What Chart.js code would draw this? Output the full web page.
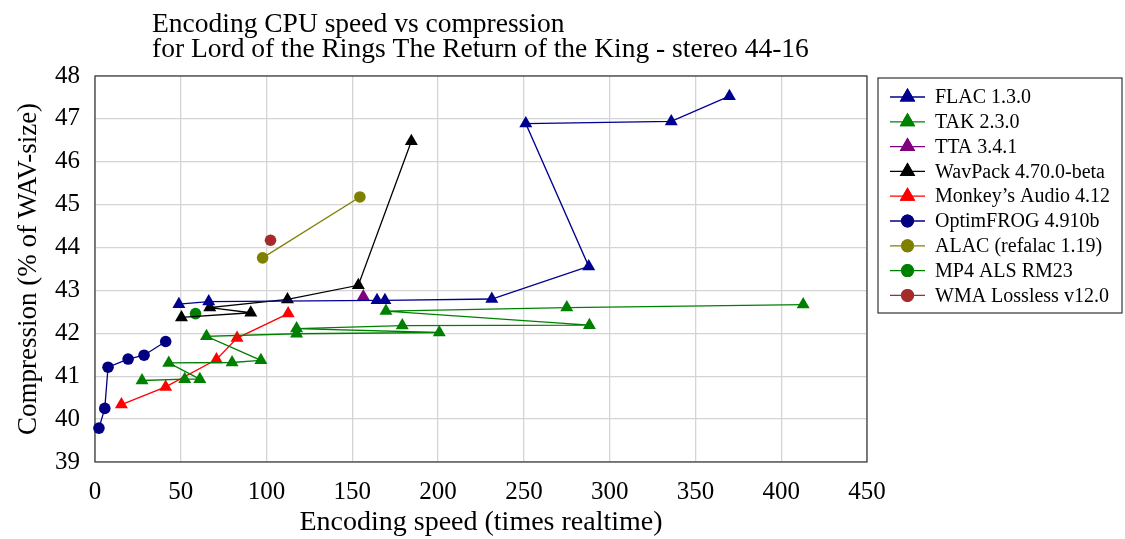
<!DOCTYPE html>
<html>
<head>
<meta charset="utf-8">
<script src="https://cdn.jsdelivr.net/npm/chart.js@4.4.0/dist/chart.umd.min.js"></script>
<style>
  body { margin: 0; background: #fff; }
  #wrap { width: 1125px; height: 539px; }
</style>
</head>
<body>
<div id="wrap"><canvas id="codecChart" width="1125" height="539"></canvas></div>
<script>
// values (speed = times realtime, size = % of WAV)
const xTicks = [0, 50, 100, 150, 200, 250, 300, 350, 400, 450];
const yTicks = [39, 40, 41, 42, 43, 44, 45, 46, 47, 48];

const flacSpeed = [48.9, 66.3, 164.4, 169.0, 231.3, 287.8, 251.1, 335.9, 369.8];
const flacSize = [42.68, 42.74, 42.77, 42.77, 42.80, 43.56, 46.89, 46.94, 47.53];

const takSpeed = [412.8, 275.0, 169.6, 288.2, 179.1, 117.5, 200.7, 117.5, 65.0, 96.7, 79.9, 43.0, 61.1, 52.3, 27.4];
const takSize = [42.67, 42.60, 42.52, 42.19, 42.18, 42.11, 42.02, 41.99, 41.93, 41.37, 41.32, 41.31, 40.93, 40.93, 40.90];

const ttaSpeed = [156.4];
const ttaSize = [42.86];

const wavpackSpeed = [50.4, 90.8, 66.9, 112.2, 153.5, 184.4];
const wavpackSize = [42.37, 42.48, 42.60, 42.79, 43.12, 46.48];

const monkeySpeed = [15.4, 41.2, 70.8, 82.8, 112.6];
const monkeySize = [40.34, 40.75, 41.39, 41.89, 42.46];

const ofrSpeed = [2.3, 5.7, 7.6, 19.3, 28.6, 41.2];
const ofrSize = [39.79, 40.25, 41.21, 41.40, 41.49, 41.81];

const alacSpeed = [97.7, 154.4];
const alacSize = [43.76, 45.18];

const alsSpeed = [58.6];
const alsSize = [42.46];

const wmaSpeed = [102.3];
const wmaSize = [44.17];

const FONT = "'Liberation Serif', 'Times New Roman', serif";

function pts(xs, ys) {
  return xs.map((x, i) => ({ x: x, y: ys[i] }));
}

function series(label, xs, ys, color, style) {
  return {
    label: label,
    data: pts(xs, ys),
    showLine: true,
    borderColor: color,
    backgroundColor: color,
    borderWidth: 1.3,
    pointStyle: style,
    pointRadius: style === "triangle" ? 7.5 : 5.8,
    pointBorderWidth: 0,
    pointHoverRadius: 7,
    clip: false,
  };
}

const datasets = [
  series("FLAC 1.3.0", flacSpeed, flacSize, "#000090", "triangle"),
  series("TAK 2.3.0", takSpeed, takSize, "#008000", "triangle"),
  series("TTA 3.4.1", ttaSpeed, ttaSize, "#800080", "triangle"),
  series("WavPack 4.70.0-beta", wavpackSpeed, wavpackSize, "#000000", "triangle"),
  series("Monkey\u2019s Audio 4.12", monkeySpeed, monkeySize, "#ff0000", "triangle"),
  series("OptimFROG 4.910b", ofrSpeed, ofrSize, "#000080", "circle"),
  series("ALAC (refalac 1.19)", alacSpeed, alacSize, "#808000", "circle"),
  series("MP4 ALS RM23", alsSpeed, alsSize, "#008000", "circle"),
  series("WMA Lossless v12.0", wmaSpeed, wmaSize, "#a52a2a", "circle"),
];

// two-line title, left aligned like the pgfplots original
const titlePlugin = {
  id: "titleLines",
  afterDraw(chart) {
    const ctx = chart.ctx;
    ctx.save();
    ctx.fillStyle = "#000";
    ctx.font = "27.5px " + FONT;
    ctx.textAlign = "left";
    ctx.textBaseline = "alphabetic";
    ctx.fillText("Encoding CPU speed vs compression", 152, 32);
    ctx.fillText("for Lord of the Rings The Return of the King - stereo 44-16", 152, 57);
    ctx.restore();
  },
};

// box around the plot area
const framePlugin = {
  id: "frame",
  beforeDatasetsDraw(chart) {
    const a = chart.chartArea;
    const ctx = chart.ctx;
    ctx.save();
    ctx.strokeStyle = "#333";
    ctx.lineWidth = 1.2;
    ctx.strokeRect(a.left, a.top, a.right - a.left, a.bottom - a.top);
    ctx.restore();
  },
};

// legend with line + marker samples inside a framed box
const legendPlugin = {
  id: "boxLegend",
  afterDraw(chart) {
    const ctx = chart.ctx;
    ctx.save();
    ctx.strokeStyle = "#333";
    ctx.lineWidth = 1.2;
    ctx.strokeRect(878, 78, 244, 235);
    ctx.font = "20px " + FONT;
    ctx.textAlign = "left";
    ctx.textBaseline = "middle";
    chart.data.datasets.forEach((ds, i) => {
      const y = 97 + i * 24.8;
      ctx.strokeStyle = ds.borderColor;
      ctx.lineWidth = 1.3;
      ctx.beginPath();
      ctx.moveTo(890, y);
      ctx.lineTo(925, y);
      ctx.stroke();
      ctx.fillStyle = ds.backgroundColor;
      Chart.helpers.drawPoint(ctx, {
        pointStyle: ds.pointStyle,
        radius: ds.pointStyle === "triangle" ? 9 : 6.5,
        rotation: 0,
        borderWidth: 0,
      }, 907.5, y);
      ctx.fill();
      ctx.fillStyle = "#000";
      ctx.fillText(ds.label, 935, y + 1);
    });
    ctx.restore();
  },
};

const ctx = document.getElementById("codecChart").getContext("2d");
new Chart(ctx, {
  type: "scatter",
  data: { datasets: datasets },
  options: {
    responsive: false,
    animation: false,
    devicePixelRatio: 1,
    layout: { padding: { top: 76, right: 258, left: 0, bottom: 0 } },
    plugins: {
      legend: { display: false },
      title: { display: false },
      tooltip: { enabled: false },
    },
    scales: {
      x: {
        type: "linear",
        min: 0,
        max: 450,
        afterBuildTicks(scale) {
          scale.ticks = xTicks.map((v) => ({ value: v }));
        },
        afterFit(scale) {
          scale.height = 77;
        },
        grid: { color: "#d4d4d4", lineWidth: 1.3, drawTicks: false },
        border: { display: false },
        ticks: {
          color: "#000",
          padding: 15,
          maxRotation: 0,
          font: { family: FONT, size: 25 },
        },
        title: {
          display: true,
          text: "Encoding speed (times realtime)",
          color: "#000",
          font: { family: FONT, size: 28, lineHeight: 1 },
          padding: { top: 0, bottom: 2 },
        },
      },
      y: {
        type: "linear",
        min: 39,
        max: 48,
        afterBuildTicks(scale) {
          scale.ticks = yTicks.map((v) => ({ value: v }));
        },
        afterFit(scale) {
          scale.width = 95;
        },
        grid: { color: "#d4d4d4", lineWidth: 1.3, drawTicks: false },
        border: { display: false },
        ticks: {
          color: "#000",
          padding: 15,
          font: { family: FONT, size: 25 },
        },
        title: {
          display: true,
          text: "Compression (% of WAV-size)",
          color: "#000",
          font: { family: FONT, size: 27, lineHeight: 1 },
          padding: { top: 15, bottom: 0 },
        },
      },
    },
  },
  plugins: [titlePlugin, framePlugin, legendPlugin],
});
</script>
</body>
</html>
